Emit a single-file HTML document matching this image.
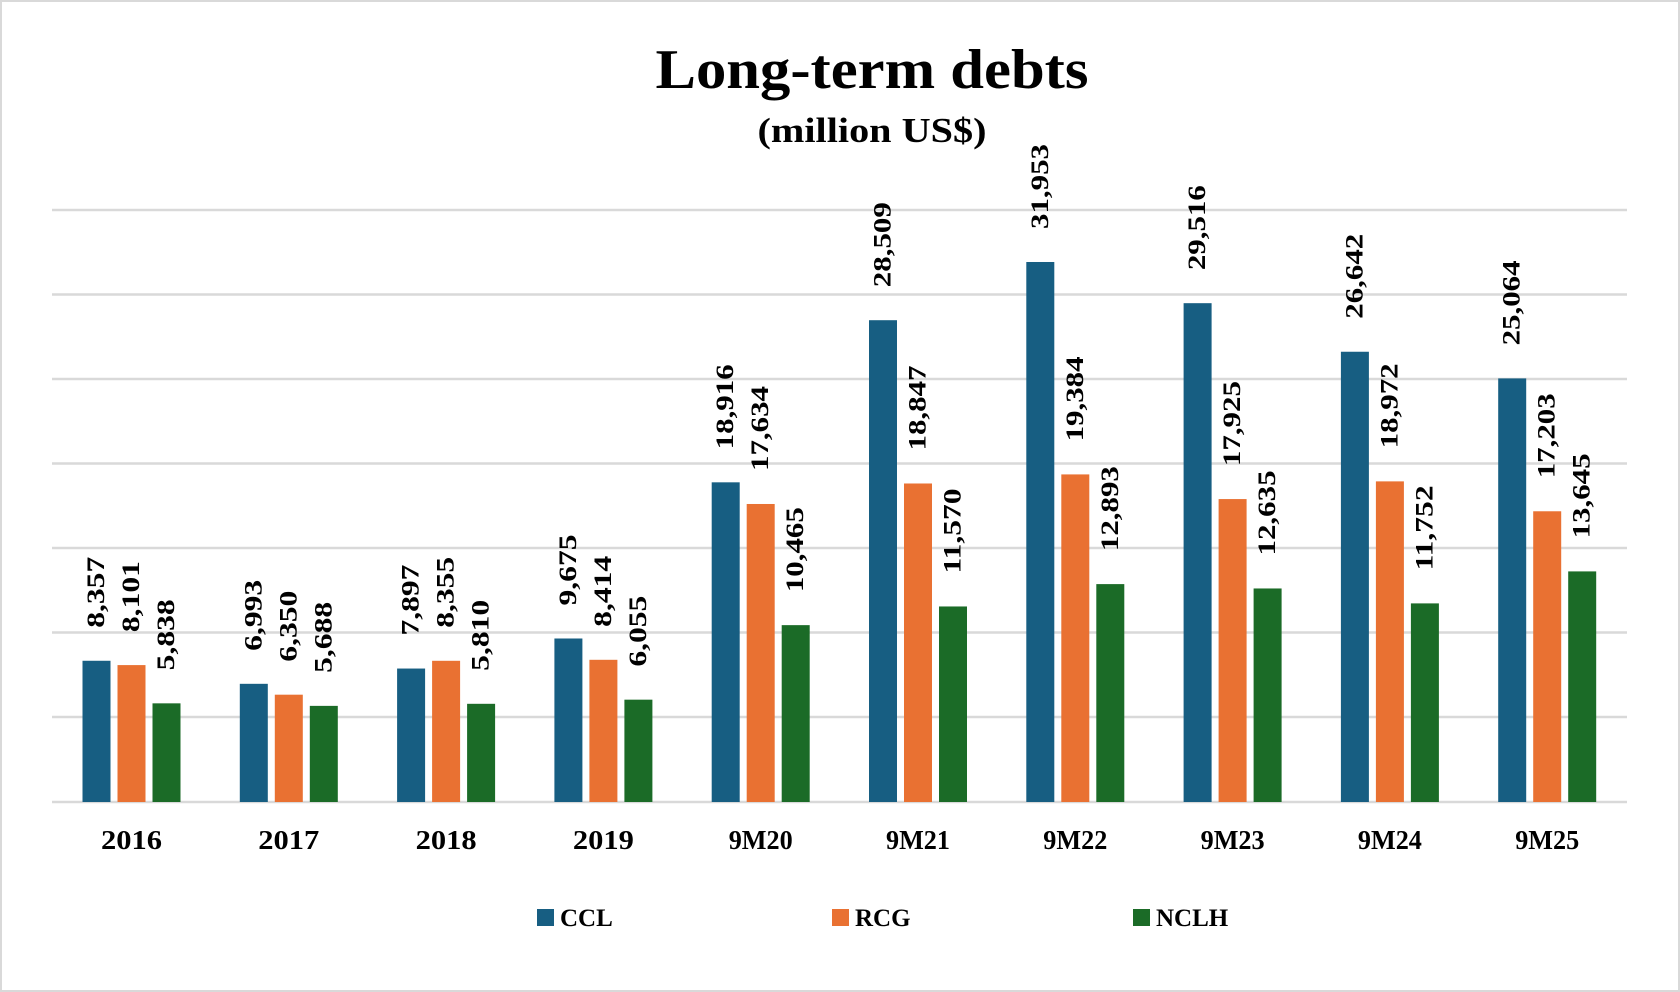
<!DOCTYPE html>
<html><head><meta charset="utf-8"><style>
html,body{margin:0;padding:0;background:#fff}
svg{display:block}
text{font-family:"Liberation Serif",serif;fill:#000}
</style></head><body>
<svg width="1680" height="992" viewBox="0 0 1680 992" xmlns="http://www.w3.org/2000/svg">
<rect x="1" y="1" width="1678" height="990" fill="#fff" stroke="#d9d9d9" stroke-width="2"/>
<text x="872" y="88" font-size="56" font-weight="bold" text-anchor="middle" textLength="433" lengthAdjust="spacingAndGlyphs">Long-term debts</text>
<text x="872" y="142" font-size="35" font-weight="bold" text-anchor="middle" textLength="229" lengthAdjust="spacingAndGlyphs">(million US$)</text>
<g stroke="#d9d9d9" stroke-width="2.5">
<line x1="52" x2="1627" y1="210" y2="210"/><line x1="52" x2="1627" y1="294.5" y2="294.5"/>
<line x1="52" x2="1627" y1="379" y2="379"/><line x1="52" x2="1627" y1="463.5" y2="463.5"/>
<line x1="52" x2="1627" y1="548" y2="548"/><line x1="52" x2="1627" y1="632.5" y2="632.5"/>
<line x1="52" x2="1627" y1="717" y2="717"/><line x1="52" x2="1627" y1="802" y2="802"/>
</g>
<g id="bars"></g>
<g font-size="27" font-weight="bold" text-anchor="middle" id="cats"></g>
<g font-size="25" font-weight="bold">
<rect x="537" y="909" width="17" height="17" fill="#175e82"/><text x="560" y="926">CCL</text>
<rect x="832" y="909" width="17" height="17" fill="#e97132"/><text x="855" y="926">RCG</text>
<rect x="1133" y="909" width="17" height="17" fill="#1b6b27"/><text x="1156" y="926">NCLH</text>
</g>
</svg>
<script>
(function(){
var cats=["2016","2017","2018","2019","9M20","9M21","9M22","9M23","9M24","9M25"];
var d=[[8357,8101,5838],[6993,6350,5688],[7897,8355,5810],[9675,8414,6055],[18916,17634,10465],[28509,18847,11570],[31953,19384,12893],[29516,17925,12635],[26642,18972,11752],[25064,17203,13645]];
var col=["#175e82","#e97132","#1b6b27"];
var ns="http://www.w3.org/2000/svg",g=document.getElementById("bars"),cg=document.getElementById("cats");
function el(n,a,p,t){var e=document.createElementNS(ns,n);for(var k in a)e.setAttribute(k,a[k]);if(t)e.textContent=t;p.appendChild(e);return e;}
function fmt(v){var s=String(v);return s.slice(0,s.length-3)+","+s.slice(-3);}
for(var i=0;i<10;i++){var c=131.5+i*157.3;
el("text",{x:c,y:849,textLength:(i<4?61:64),lengthAdjust:"spacingAndGlyphs"},cg,cats[i]);
for(var j=0;j<3;j++){var v=d[i][j],x=c+(j-1)*35,yt=802-v*0.0169;
el("rect",{x:x-14,y:yt,width:28,height:802-yt,fill:col[j]},g);
var ty=yt-33,s=fmt(v);
el("text",{x:x,y:ty,transform:"rotate(-90 "+x+" "+ty+")","font-size":"25","font-weight":"bold","dominant-baseline":"central",textLength:(s.length==5?71:85),lengthAdjust:"spacingAndGlyphs"},g,s);
}}
})();
</script>
</body></html>
